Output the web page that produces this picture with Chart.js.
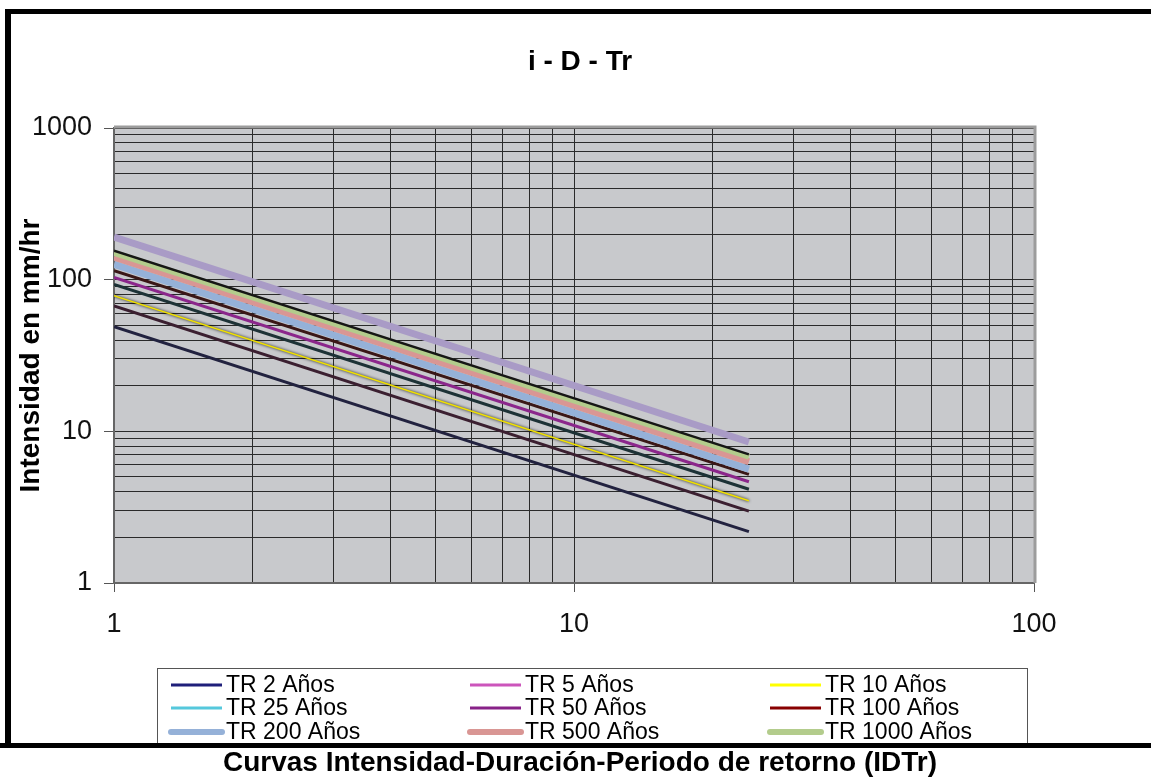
<!DOCTYPE html>
<html>
<head>
<meta charset="utf-8">
<title>i - D - Tr</title>
<script src="https://cdn.jsdelivr.net/npm/chart.js@4"></script>
<style>
  html, body { margin: 0; padding: 0; background: #fff; }
  #wrap { width: 1151px; height: 778px; }
</style>
</head>
<body>
<div id="wrap"><canvas id="idtr" width="1151" height="778"></canvas></div>
<script>
// ---------------------------------------------------------------------------
// Data — duration in hr, intensity in mm/hr
// ---------------------------------------------------------------------------

const durations = [1, 24];

const tr2    = [49, 2.18];
const tr5    = [67, 2.98];
const tr10   = [78.3, 3.49];
const tr25   = [93, 4.15];
const tr50   = [103.5, 4.65];
const tr100  = [114.5, 5.2];
const tr200  = [126, 5.64];
const tr500  = [141, 6.3];
const tr1000 = [150.5, 6.8];
const trBlack    = [155, 7.05];   // thin black line on top of TR 1000 (not in legend)
const trLavender = [191, 8.5];    // thick lavender line (not in legend)

const xTicks = [1, 2, 3, 4, 5, 6, 7, 8, 9, 10, 20, 30, 40, 50, 60, 70, 80, 90, 100];
const yTicks = [1, 2, 3, 4, 5, 6, 7, 8, 9, 10, 20, 30, 40, 50, 60, 70, 80, 90,
                100, 200, 300, 400, 500, 600, 700, 800, 900, 1000];
const majorTicks = [1, 10, 100, 1000];

const FONT = "'Liberation Sans', Arial, Helvetica, sans-serif";

// ---------------------------------------------------------------------------
// Series definitions
// ---------------------------------------------------------------------------

const series = [
    { label: "TR 2 Años",    values: tr2,    color: "#22223f", legendColor: "#1f1f7a", width: 3 },
    { label: "TR 5 Años",    values: tr5,    color: "#3b1f30", legendColor: "#cc55bb", width: 3 },
    { label: "TR 10 Años",   values: tr10,   color: "#f0e000", legendColor: "#ffff00", width: 1.5, halo: "#000" },
    { label: "TR 25 Años",   values: tr25,   color: "#1d3236", legendColor: "#55c8dc", width: 3 },
    { label: "TR 50 Años",   values: tr50,   color: "#8b268b", legendColor: "#882288", width: 3 },
    { label: "TR 100 Años",  values: tr100,  color: "#3a1717", legendColor: "#880000", width: 3 },
    { label: "TR 200 Años",  values: tr200,  color: "#95b1d8", legendColor: "#95b1d8", width: 7 },
    { label: "TR 500 Años",  values: tr500,  color: "#d99694", legendColor: "#d99694", width: 7 },
    { label: "TR 1000 Años", values: tr1000, color: "#b3cc8c", legendColor: "#b3cc8c", width: 6 },
    { label: "",             values: trBlack,    color: "#161616", width: 2.5, hidden: true },
    { label: "",             values: trLavender, color: "#a99bc6", width: 7, hidden: true },
];

const datasets = series.map((s, i) => ({
    label: s.label,
    data: durations.map((d, k) => ({ x: d, y: s.values[k] })),
    borderColor: s.color,
    backgroundColor: s.color,
    borderWidth: s.width,
    pointRadius: 0,
    tension: 0,
    fill: false,
    order: series.length - i,
    halo: s.halo,
}));

// ---------------------------------------------------------------------------
// Plugins: background/frame, halo, legend + titles
// ---------------------------------------------------------------------------

const framePlugin = {
    id: "frame",
    beforeDraw(chart) {
        const { ctx, chartArea: a } = chart;
        ctx.save();
        ctx.fillStyle = "#fff";
        ctx.fillRect(0, 0, chart.width, chart.height);
        ctx.fillStyle = "#c8c9cc";
        ctx.fillRect(a.left, a.top, a.right - a.left, a.bottom - a.top);
        ctx.restore();
    },
    beforeDatasetsDraw(chart) {
        const { ctx, chartArea: a } = chart;
        ctx.save();
        ctx.strokeStyle = "#9c9c9c";
        ctx.lineWidth = 3;
        ctx.beginPath();
        ctx.moveTo(a.left, a.top - 1);
        ctx.lineTo(a.right + 1, a.top - 1);
        ctx.lineTo(a.right + 1, a.bottom);
        ctx.stroke();
        ctx.restore();
    },
};

const haloPlugin = {
    id: "halo",
    beforeDatasetDraw(chart, args) {
        const ds = chart.data.datasets[args.index];
        if (ds.halo) {
            chart.ctx.save();
            chart.ctx.shadowColor = ds.halo;
            chart.ctx.shadowBlur = 3;
        }
    },
    afterDatasetDraw(chart, args) {
        if (chart.data.datasets[args.index].halo) chart.ctx.restore();
    },
};

const decorPlugin = {
    id: "decor",
    afterDraw(chart) {
        const ctx = chart.ctx;
        ctx.save();

        // title
        ctx.fillStyle = "#000";
        ctx.textAlign = "center";
        ctx.textBaseline = "middle";
        ctx.font = `bold 28px ${FONT}`;
        ctx.fillText("i - D - Tr", 580, 62);

        // legend box
        ctx.fillStyle = "#fff";
        ctx.fillRect(157, 668, 870, 78);
        ctx.strokeStyle = "#555";
        ctx.lineWidth = 1;
        ctx.strokeRect(157.5, 668.5, 870, 78);

        const cols = [171, 470, 770];
        const rows = [685, 708, 732];
        ctx.font = `23px ${FONT}`;
        ctx.textAlign = "left";
        series.filter((s) => !s.hidden).forEach((s, i) => {
            const x = cols[i % 3];
            const y = rows[Math.floor(i / 3)];
            ctx.strokeStyle = s.legendColor;
            ctx.lineWidth = s.width > 4 ? 6 : 3;
            ctx.lineCap = s.width > 4 ? "round" : "butt";
            ctx.beginPath();
            ctx.moveTo(x, y);
            ctx.lineTo(x + 51, y);
            ctx.stroke();
            ctx.fillStyle = "#000";
            ctx.fillText(s.label, x + 55, y + 1);
        });

        // outer frame (thick black)
        ctx.fillStyle = "#000";
        ctx.fillRect(5, 9, 1146, 5);
        ctx.fillRect(5, 9, 6, 739);
        ctx.fillRect(0, 743, 1151, 5);

        // x-axis title, below the frame
        ctx.textAlign = "center";
        ctx.font = `bold 28px ${FONT}`;
        ctx.fillText("Curvas Intensidad-Duración-Periodo de retorno (IDTr)", 580, 763);

        ctx.restore();
    },
};

// ---------------------------------------------------------------------------
// Chart
// ---------------------------------------------------------------------------

const isMajor = (v) => majorTicks.includes(v);

new Chart(document.getElementById("idtr"), {
    type: "line",
    data: { datasets },
    plugins: [framePlugin, haloPlugin, decorPlugin],
    options: {
        responsive: false,
        animation: false,
        events: [],
        layout: { padding: { top: 128, left: 12, right: 117, bottom: 135 } },
        plugins: {
            legend: { display: false },
            title: { display: false },
            tooltip: { enabled: false },
        },
        scales: {
            x: {
                type: "logarithmic",
                min: 1,
                max: 100,
                afterBuildTicks: (scale) => { scale.ticks = xTicks.map((v) => ({ value: v })); },
                afterFit: (scale) => { scale.height = 60; },
                ticks: {
                    autoSkip: false,
                    maxRotation: 0,
                    padding: 16,
                    color: "#111",
                    font: { family: FONT, size: 27 },
                    callback: (v) => (isMajor(v) ? String(v) : ""),
                },
                grid: {
                    color: "#2a2a2a",
                    lineWidth: 1,
                    tickLength: 9,
                    tickColor: (c) => (c.tick && isMajor(c.tick.value) ? "#555" : "rgba(0,0,0,0)"),
                },
                border: { color: "#666", width: 2 },
            },
            y: {
                type: "logarithmic",
                min: 1,
                max: 1000,
                afterBuildTicks: (scale) => { scale.ticks = yTicks.map((v) => ({ value: v })); },
                afterFit: (scale) => { scale.width = 102; },
                ticks: {
                    autoSkip: false,
                    padding: 12,
                    color: "#111",
                    font: { family: FONT, size: 27 },
                    callback: (v) => (isMajor(v) ? String(v) : ""),
                },
                grid: {
                    color: "#2a2a2a",
                    lineWidth: 1,
                    tickLength: 10,
                    tickColor: (c) => (c.tick && isMajor(c.tick.value) ? "#555" : "rgba(0,0,0,0)"),
                },
                border: { color: "#666", width: 2 },
                title: {
                    display: true,
                    text: "Intensidad en mm/hr",
                    color: "#000",
                    font: { family: FONT, size: 28, weight: "bold" },
                    padding: { top: 2, bottom: 0 },
                },
            },
        },
    },
});
</script>
</body>
</html>
